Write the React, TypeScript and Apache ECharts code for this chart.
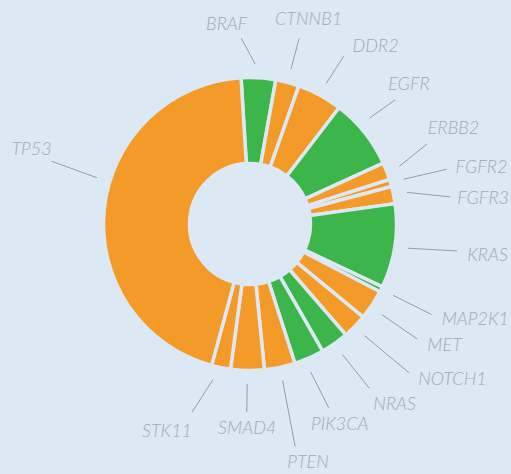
import React, { useEffect, useRef } from "react";
import * as echarts from "echarts";

// Genes, clockwise from the top of the ring
const genes = [
  "BRAF", "CTNNB1", "DDR2", "EGFR", "ERBB2", "FGFR2", "FGFR3", "KRAS",
  "MAP2K1", "MET", "NOTCH1", "NRAS", "PIK3CA", "PTEN", "SMAD4", "STK11", "TP53",
];
// Share of the ring (percent)
const frequency = [
  3.8, 2.6, 5.0, 7.8, 1.9, 0.8, 1.9, 9.3,
  0.6, 3.3, 2.7, 3.1, 3.3, 3.4, 3.7, 2.1, 44.9,
];
// Genes drawn in green (the rest in orange)
const targetable = [
  true, false, false, true, false, false, false, true,
  true, false, false, true, true, false, false, false, false,
];

// Label layout: line reach (px), angular turn of line start / end (deg), text anchoring
const labelReach = [186, 192, 192, 191, 194, 204, 202, 209, 203, 203, 218, 203, 200, 227, 188, 197, 208];
const labelStartTurn = [-1.5, 0, 0, -3, 0, 0, 0, 0, 0, 1, 0, 0, 1.5, 0, 0, 2, 11];
const labelEndTurn = [-6, 0, 0.7, -2, -3.2, 0.7, 3.7, -1.3, 0, 1, -1.2, -0.7, 0.6, 0.3, 0, 5.7, 11.7];
const labelAlign = [
  "right", "center", "left", "left", "left", "left", "left", "left",
  "left", "left", "left", "left", "center", "center", "center", "right", "right",
];
const labelDx = [6, 9.5, 9, -7, 1, 9, 7, 10, 10, 10, 9, 4, 11, 13, 0.5, 0, 0];
const labelDy = [-15, -20, -11, -17, -17, -3, 0, 3, 3, 5, 5, 15, 15, 15, 15, 18, -13];

const W = 511;
const H = 474;
const CX = 250;
const CY = 224;
const BG = "#dce8f3";
const GREEN = "#3cb64b";
const ORANGE = "#f49a28";
const RAD = Math.PI / 180;

export default function App() {
  const ref = useRef<HTMLDivElement>(null);

  useEffect(() => {
    if (!ref.current) return;
    const chart = echarts.init(ref.current, null, { renderer: "svg" });
    const data = genes.map((g, i) => ({
      name: g,
      value: frequency[i],
      itemStyle: { color: targetable[i] ? GREEN : ORANGE },
    }));
    chart.setOption({
      animation: false,
      backgroundColor: BG,
      series: [
        {
          type: "pie",
          center: [CX, CY],
          radius: [60.5, 146.5],
          startAngle: 93.5,
          clockwise: true,
          avoidLabelOverlap: false,
          emphasis: { disabled: true },
          itemStyle: { borderColor: BG, borderWidth: 3.5 },
          label: {
            show: true,
            position: "outside",
            formatter: "{b}",
            fontFamily: "Lato",
            fontStyle: "italic",
            fontWeight: 300,
            fontSize: 18,
            color: "#a3a8ae",
          },
          labelLine: {
            show: true,
            length: 10,
            length2: 0,
            smooth: false,
            lineStyle: { color: "#9b9b9b", width: 1 },
          },
          labelLayout: (params: any) => {
            const i = params.dataIndex;
            const pts = params.labelLinePoints;
            if (!pts) return {};
            const px = pts[0][0];
            const py = pts[0][1];
            const mid = Math.atan2(px - CX, -(py - CY));
            const a0 = mid + labelStartTurn[i] * RAD;
            const a1 = mid + labelEndTurn[i] * RAD;
            const sx = CX + Math.sin(a0) * 160;
            const sy = CY - Math.cos(a0) * 160;
            const ex = CX + Math.sin(a1) * labelReach[i];
            const ey = CY - Math.cos(a1) * labelReach[i];
            return {
              x: ex + labelDx[i],
              y: ey + labelDy[i],
              align: labelAlign[i],
              verticalAlign: "middle",
              labelLinePoints: [
                [sx, sy],
                [ex, ey],
                [ex, ey],
              ],
            };
          },
          data,
        },
      ],
    });
    return () => chart.dispose();
  }, []);

  return (
    <div
      ref={ref}
      style={{ position: "fixed", left: 0, top: 0, width: W, height: H }}
    />
  );
}
